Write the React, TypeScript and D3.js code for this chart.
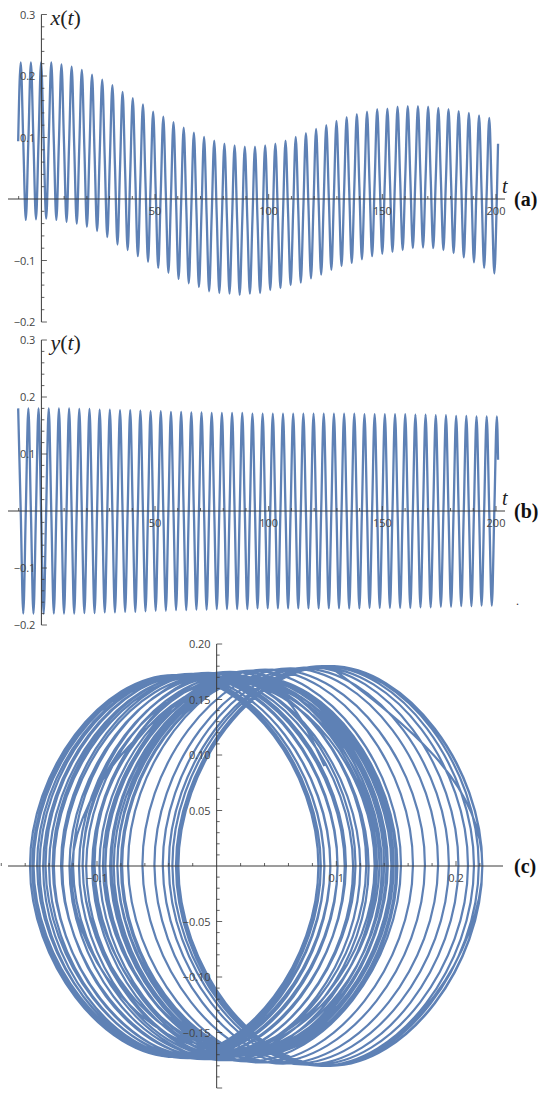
import React from 'react';
import * as d3 from 'd3';

// ---- data (per oscillation cycle) ----
// x(t) maxima / minima, one per cycle (k = 0..46)
const xMax = [0.222,0.222,0.222,0.222,0.219,0.215,0.210,0.202,0.194,0.185,0.174,0.164,0.154,0.142,0.134,0.125,0.116,0.108,0.101,0.095,0.090,0.087,0.085,0.085,0.087,0.090,0.095,0.101,0.107,0.114,0.120,0.127,0.133,0.138,0.142,0.146,0.147,0.150,0.151,0.151,0.150,0.148,0.146,0.143,0.140,0.136,0.132];
const xMin = [-0.034,-0.033,-0.032,-0.034,-0.037,-0.040,-0.045,-0.052,-0.062,-0.074,-0.083,-0.093,-0.102,-0.112,-0.120,-0.130,-0.137,-0.143,-0.150,-0.153,-0.154,-0.156,-0.154,-0.153,-0.148,-0.145,-0.140,-0.136,-0.129,-0.123,-0.115,-0.109,-0.104,-0.098,-0.093,-0.089,-0.086,-0.083,-0.080,-0.079,-0.080,-0.083,-0.088,-0.095,-0.103,-0.112,-0.121];
// y(t) maxima (k = 0..47) / minima (k = 0..46)
const yMax = [0.180,0.180,0.180,0.180,0.180,0.180,0.179,0.179,0.178,0.178,0.177,0.177,0.176,0.175,0.175,0.174,0.174,0.173,0.173,0.172,0.172,0.172,0.172,0.171,0.171,0.171,0.171,0.171,0.171,0.171,0.171,0.171,0.171,0.171,0.170,0.170,0.170,0.170,0.170,0.169,0.169,0.168,0.168,0.167,0.167,0.166,0.166,0.166];
const yMin = [-0.180,-0.180,-0.180,-0.180,-0.180,-0.180,-0.179,-0.179,-0.178,-0.178,-0.177,-0.177,-0.176,-0.175,-0.175,-0.174,-0.174,-0.173,-0.173,-0.172,-0.172,-0.172,-0.172,-0.171,-0.171,-0.171,-0.171,-0.171,-0.171,-0.171,-0.171,-0.171,-0.171,-0.171,-0.170,-0.170,-0.170,-0.170,-0.170,-0.169,-0.169,-0.168,-0.168,-0.167,-0.167,-0.166,-0.166];
const period = 4.481;       // oscillation period in t
const firstXMaxT = -9.1;    // time of first x maximum
const endT = 200.9;
const endX = 0.09;
const endY = 0.09;

// ticks
const tLabels = [50, 100, 150, 200];
const tMinor = [-10, 10, 20, 30, 40, 60, 70, 80, 90, 110, 120, 130, 140, 160, 170, 180, 190];
const abLabels = [-0.2, -0.1, 0.1, 0.2, 0.3];
const cxLabels = [-0.1, 0.1, 0.2];
const cyLabels = [0.2, 0.15, 0.1, 0.05, -0.05, -0.1, -0.15];

const BLUE = '#5E81B5';
const AX = '#3a3a3a';
const LBL = '#444';
const TICKFONT = 'Open Sans, DejaVu Sans, sans-serif';
const SERIF = 'Liberation Serif, DejaVu Serif, serif';

type S = { t: number; x: number; y: number };
const samples: S[] = [];
xMax.forEach((mx, k) => {
  const tk = firstXMaxT + k * period;
  const prevMin = k === 0 ? xMin[0] : xMin[k - 1];
  samples.push({ t: tk - period / 4, x: (prevMin + mx) / 2, y: yMax[k] });
  samples.push({ t: tk, x: mx, y: 0 });
  samples.push({ t: tk + period / 4, x: (mx + xMin[k]) / 2, y: yMin[k] });
  samples.push({ t: tk + period / 2, x: xMin[k], y: 0 });
});
{
  const k = xMax.length;
  const tk = firstXMaxT + k * period;
  samples.push({ t: tk - period / 4, x: (xMin[k - 1] + xMax[k - 1]) / 2, y: yMax[k] });
  samples.push({ t: endT, x: endX, y: endY });
}

const range = (a: number, b: number, s: number) => {
  const out: number[] = [];
  for (let v = a; v <= b + 1e-9; v += s) out.push(Math.round(v * 1000) / 1000);
  return out;
};

const fmt = (v: number, d: number) => (v < 0 ? '\u2212' : '') + Math.abs(v).toFixed(d);

function TimePanel({ top, bottom, field, name, tag }: { top: number; bottom: number; field: 'x' | 'y'; name: string; tag: string }) {
  const tScale = d3.scaleLinear().domain([0, 200]).range([41.4, 496]);
  const v = d3.scaleLinear().domain([-0.2, 0.3]).range([bottom, top]);
  const line = d3.line<S>().x(d => tScale(d.t)).y(d => v(d[field])).curve(d3.curveMonotoneX);
  const x0 = tScale(0);
  const y0 = v(0);
  const minorV = range(-0.2, 0.3, 0.02).filter(a => Math.abs(Math.round(a * 10) - a * 10) > 1e-6);
  return (
    <g>
      <path d={line(samples) || ''} fill="none" stroke={BLUE} strokeWidth={2.3} strokeLinejoin="round" />
      {/* horizontal axis */}
      <line x1={8} x2={505} y1={y0} y2={y0} stroke={AX} strokeWidth={1} />
      {tMinor.map(t => <line key={'m' + t} x1={tScale(t)} x2={tScale(t)} y1={y0} y2={y0 - 3} stroke={AX} strokeWidth={0.8} />)}
      {tLabels.map(t => (
        <g key={'l' + t}>
          <line x1={tScale(t)} x2={tScale(t)} y1={y0} y2={y0 - 5} stroke={AX} strokeWidth={0.8} />
          <text x={tScale(t)} y={y0 + 16} textAnchor="middle" fontFamily={TICKFONT} fontSize={11} fill={LBL}>{t}</text>
        </g>
      ))}
      {/* vertical axis */}
      <line x1={x0} x2={x0} y1={v(0.3)} y2={v(-0.2)} stroke={AX} strokeWidth={1} />
      {minorV.map(a => <line key={'vm' + a} x1={x0} x2={x0 + 3} y1={v(a)} y2={v(a)} stroke={AX} strokeWidth={0.8} />)}
      {abLabels.map(a => (
        <g key={'vl' + a}>
          <line x1={x0} x2={x0 + 5.5} y1={v(a)} y2={v(a)} stroke={AX} strokeWidth={0.8} />
          <text x={x0 - 6} y={v(a) + 4} textAnchor="end" fontFamily={TICKFONT} fontSize={11} fill={LBL}>{fmt(a, 1)}</text>
        </g>
      ))}
      <text x={x0 + 9} y={top + 10} fontFamily={SERIF} fontSize={22} fill="#222">
        <tspan fontStyle="italic">{name}</tspan>(<tspan fontStyle="italic">t</tspan>)
      </text>
      <text x={502} y={y0 - 6} fontFamily={SERIF} fontSize={20} fontStyle="italic" fill="#222">t</text>
      <text x={514} y={y0 + 7} fontFamily={SERIF} fontSize={20} fontWeight="bold" fill="#111">{tag}</text>
    </g>
  );
}

function PhasePanel() {
  const px = d3.scaleLinear().domain([-0.1, 0.2]).range([97, 456]);
  const py = d3.scaleLinear().domain([-0.2, 0.2]).range([1088, 644]);
  const line = d3.line<S>().x(d => px(d.x)).y(d => py(d.y)).curve(d3.curveNatural);
  const x0 = px(0);
  const y0 = py(0);
  const xMinor = range(-0.18, 0.22, 0.02).filter(a => !cxLabels.some(l => Math.abs(l - a) < 1e-6) && Math.abs(a) > 1e-6);
  const yMinor = range(-0.2, 0.2, 0.01).filter(a => Math.abs(Math.round(a * 20) - a * 20) > 1e-6);
  const yMajor = [-0.2, ...cyLabels];
  return (
    <g>
      <path d={line(samples) || ''} fill="none" stroke={BLUE} strokeWidth={2.2} />
      <line x1={8} x2={503} y1={y0} y2={y0} stroke={AX} strokeWidth={1} />
      {xMinor.map(a => <line key={'xm' + a} x1={px(a)} x2={px(a)} y1={y0} y2={y0 - 3} stroke={AX} strokeWidth={0.8} />)}
      {cxLabels.map(a => (
        <g key={'xl' + a}>
          <line x1={px(a)} x2={px(a)} y1={y0} y2={y0 - 5} stroke={AX} strokeWidth={0.8} />
          <text x={px(a)} y={y0 + 16} textAnchor="middle" fontFamily={TICKFONT} fontSize={11} fill={LBL}>{fmt(a, 1)}</text>
        </g>
      ))}
      <line x1={x0} x2={x0} y1={py(0.2)} y2={py(-0.2)} stroke={AX} strokeWidth={1} />
      {yMinor.map(a => <line key={'ym' + a} x1={x0} x2={x0 + 3} y1={py(a)} y2={py(a)} stroke={AX} strokeWidth={0.8} />)}
      {yMajor.map(a => <line key={'yM' + a} x1={x0} x2={x0 + 5.5} y1={py(a)} y2={py(a)} stroke={AX} strokeWidth={0.8} />)}
      {cyLabels.map(a => (
        <text key={'yl' + a} x={x0 - 6} y={py(a) + 4} textAnchor="end" fontFamily={TICKFONT} fontSize={11} fill={LBL}>{fmt(a, 2)}</text>
      ))}
      <text x={514} y={y0 + 7} fontFamily={SERIF} fontSize={20} fontWeight="bold" fill="#111">(c)</text>
    </g>
  );
}

export default function App() {
  return (
    <svg width={550} height={1095} viewBox="0 0 550 1095" style={{ position: 'absolute', left: 0, top: 0, background: '#fff', display: 'block' }}>
      <rect x={0} y={0} width={550} height={1095} fill="#fff" />
      <TimePanel top={14.5} bottom={322} field="x" name="x" tag="(a)" />
      <TimePanel top={340} bottom={625} field="y" name="y" tag="(b)" />
      <text x={516} y={605} fontFamily={SERIF} fontSize={12} fill="#333">.</text>
      <PhasePanel />
    </svg>
  );
}
